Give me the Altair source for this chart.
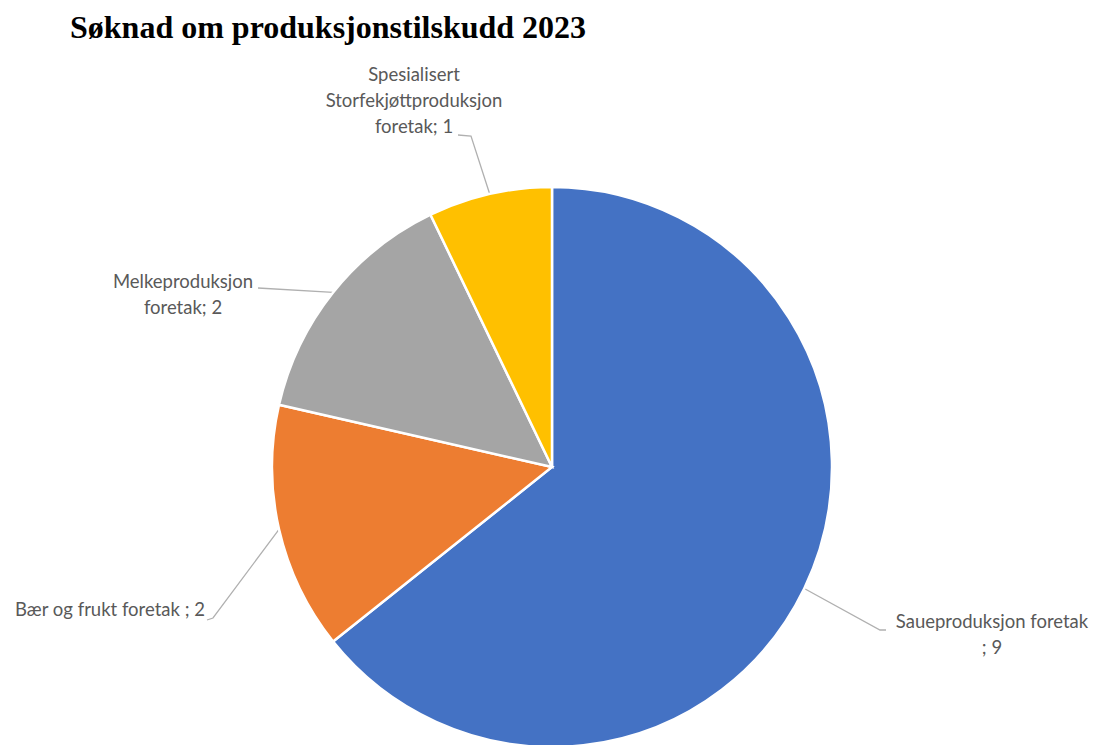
import math
import altair as alt
import pandas as pd

# ---- data ----
categories = ["Saueproduksjon foretak", "Bær og frukt foretak",
              "Melkeproduksjon foretak", "Spesialisert Storfekjøttproduksjon foretak"]
values = [9, 2, 2, 1]
label_texts = ["Saueproduksjon foretak\n; 9", "Bær og frukt foretak ; 2",
               "Melkeproduksjon\nforetak; 2", "Spesialisert\nStorfekjøttproduksjon\nforetak; 1"]
colors = ["#4472C4", "#ED7D31", "#A5A5A5", "#FFC000"]

# ---- layout (page pixels) ----
PAGE_W, PAGE_H = 1099, 745
PAD_TOP = 4
TOP = 8 + PAD_TOP + 39        # page y of view top (below title)
W = PAGE_W - 16
H = PAGE_H - 8 - TOP
CX, CY, R = 552, 467, 280
# position of the first line of each label
label_pos = [(992, 622), (110, 610), (183, 282), (414, 75)]
leader_via = [[(880, 630), (886, 630)],
              [(213, 618), (207, 620)],
              [(258, 288)],
              [(471, 136), (458, 135)]]

total = sum(values)
pie_df = pd.DataFrame({"cat": categories, "val": values, "order": list(range(len(values)))})

# leader lines start at the middle of each slice edge
line_rows = []
cum = 0
for i, v in enumerate(values):
    mid = (cum + v / 2) / total * 2 * math.pi
    cum += v
    sx = CX + R * math.sin(mid)
    sy = CY - R * math.cos(mid)
    pts = [(sx, sy)] + leader_via[i]
    for j, (px, py) in enumerate(pts):
        line_rows.append({"cat": categories[i], "k": j, "px": px, "py": py})
line_df = pd.DataFrame(line_rows)

lab_df = pd.DataFrame({"cat": categories, "txt": label_texts,
                       "px": [p[0] for p in label_pos], "py": [p[1] for p in label_pos]})

xs = alt.Scale(domain=[8, 8 + W], range=[0, W])
ys = alt.Scale(domain=[TOP, TOP + H], range=[0, H])

pie = alt.Chart(pie_df).mark_arc(outerRadius=R, stroke="white", strokeWidth=2.5).encode(
    theta=alt.Theta("val:Q", stack=True),
    color=alt.Color("cat:N", scale=alt.Scale(domain=categories, range=colors), legend=None),
    order=alt.Order("order:Q"),
    x=alt.value(CX - 8),
    y=alt.value(CY - TOP),
)

lines = alt.Chart(line_df).mark_line(color="#B0B0B0", strokeWidth=1.3).encode(
    x=alt.X("px:Q", scale=xs, axis=None),
    y=alt.Y("py:Q", scale=ys, axis=None),
    detail="cat:N",
    order="k:Q",
)

labels = alt.Chart(lab_df).mark_text(
    font="Lato", fontSize=18.5, color="#595959", lineBreak="\n", lineHeight=26,
    align="center", baseline="middle"
).encode(
    x=alt.X("px:Q", scale=xs, axis=None),
    y=alt.Y("py:Q", scale=ys, axis=None),
    text="txt:N",
)

chart = alt.layer(lines, pie, labels).resolve_scale(color="independent").properties(
    width=W, height=H,
    padding={"top": PAD_TOP, "left": 0, "right": 0, "bottom": 0},
    title=alt.TitleParams("Søknad om produksjonstilskudd 2023", font="Liberation Serif",
                          fontSize=32, fontWeight="bold", color="black", anchor="start",
                          dx=62, offset=6),
).configure(background="white").configure_view(stroke=None, strokeWidth=0)

chart.save("out.html", embed_options={"renderer": "svg", "actions": False})
